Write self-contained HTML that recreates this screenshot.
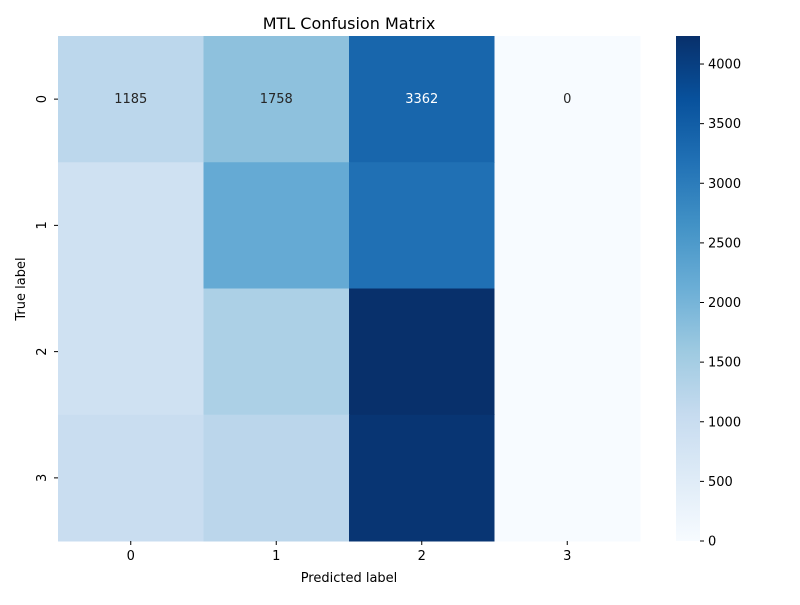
<!DOCTYPE html>
<html><head><meta charset="utf-8">
<style>
html,body{margin:0;padding:0;background:#fff;}
svg text{font-family:"DejaVu Sans","Liberation Sans",sans-serif;}
</style></head>
<body>
<svg id="chart" width="800" height="600" xmlns="http://www.w3.org/2000/svg">
<rect width="800" height="600" fill="#fff"/>
<text x="349" y="29" text-anchor="middle" font-size="16">MTL Confusion Matrix</text>
<text x="349" y="582" text-anchor="middle" font-size="13">Predicted label</text>
<text transform="translate(25,289) rotate(-90)" text-anchor="middle" font-size="13">True label</text>
<g id="cells"></g>
<g id="cbar"></g>
</svg>
<script>
const xLabels = ["0","1","2","3"];
const yLabels = ["0","1","2","3"];
const row0 = [1185, 1758, 3362, 0];
const row1 = [850, 2200, 3200, 0];
const row2 = [850, 1400, 4235, 0];
const row3 = [1000, 1200, 4150, 0];
const annotated = [true, false, false, false];
const cbarTicks = [0,500,1000,1500,2000,2500,3000,3500,4000];
const rows = [row0,row1,row2,row3];
const vmin = 0, vmax = Math.max(...rows.flat());

const L=58,R=640,T=36,B=541;
const cw=(R-L)/xLabels.length, ch=(B-T)/yLabels.length;
const xPos=i=>L+i*cw, yPos=j=>T+j*ch;
const stops=["#f7fbff","#deebf7","#c6dbef","#9ecae1","#6baed6","#4292c6","#2171b5","#08519c","#08306b"];
function hex(h){return [1,3,5].map(i=>parseInt(h.substr(i,2),16));}
function color(v){
  let t=(v-vmin)/(vmax-vmin); t=Math.max(0,Math.min(1,t));
  const s=t*8, i=Math.min(7,Math.floor(s)), f=s-i;
  const a=hex(stops[i]), b=hex(stops[i+1]);
  const c=a.map((x,k)=>Math.round(x+(b[k]-x)*f));
  return `rgb(${c[0]},${c[1]},${c[2]})`;
}
const NS="http://www.w3.org/2000/svg";
function mk(tag,attrs,parent){const e=document.createElementNS(NS,tag);for(const k in attrs)e.setAttribute(k,attrs[k]);parent.appendChild(e);return e;}
const g=document.getElementById('cells');
rows.forEach((row,j)=>{
  row.forEach((v,i)=>{
    const r=mk('rect',{x:xPos(i),y:yPos(j),width:cw+0.5,height:ch+0.5,fill:color(v)},g);
    
    
    if(annotated[j]){
      const t=mk('text',{x:xPos(i)+cw/2,y:yPos(j)+ch/2+4,'text-anchor':'middle','font-size':'13',fill:(v-vmin)/(vmax-vmin)>0.6?'#fff':'#262626'},g);
      t.textContent=v;
      
      
    }
  });
});
xLabels.forEach((lab,i)=>{
  const x=xPos(i)+cw/2;
  mk('line',{x1:x,x2:x,y1:B,y2:B+4,stroke:'#000'},g);
  const t=mk('text',{x:x,y:B+19,'text-anchor':'middle','font-size':'13'},g);
  t.textContent=lab;
  
  
});
yLabels.forEach((lab,j)=>{
  const y=yPos(j)+ch/2;
  mk('line',{x1:L-4,x2:L,y1:y,y2:y,stroke:'#000'},g);
  const t=mk('text',{transform:`translate(${L-12},${y}) rotate(-90)`,'text-anchor':'middle','font-size':'13'},g);
  t.textContent=lab;
  
  
});
const cb=document.getElementById('cbar');
const CX=676,CW=24;
const cy=v=>B-(v-vmin)/(vmax-vmin)*(B-T);
const defs=mk('defs',{},cb);
const grad=mk('linearGradient',{id:'cg',x1:0,y1:1,x2:0,y2:0},defs);
for(let k=0;k<=8;k++) mk('stop',{offset:k/8,'stop-color':stops[k]},grad);
const bar=mk('rect',{x:CX,y:T,width:CW,height:B-T,fill:'url(#cg)'},cb);


cbarTicks.forEach(v=>{
  const y=cy(v);
  mk('line',{x1:CX+CW,x2:CX+CW+4,y1:y,y2:y,stroke:'#000'},cb);
  const t=mk('text',{x:CX+CW+8,y:y+4.5,'font-size':'13'},cb);
  t.textContent=v;
  
  
});
</script>
</body></html>
